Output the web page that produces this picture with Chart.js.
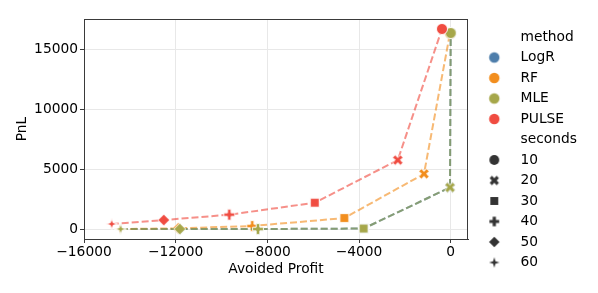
<!DOCTYPE html>
<html><head><meta charset="utf-8">
<script src="https://cdn.jsdelivr.net/npm/chart.js@4"></script>
<style>html,body{margin:0;padding:0;background:#fff}canvas{display:block}</style>
</head><body>
<canvas id="c" width="598" height="293" style="width:598px;height:293px"></canvas>
<script>
// ---- data ----
const methods = ['LogR', 'RF', 'MLE', 'PULSE'];
const seconds = [60, 50, 40, 30, 20, 10];
const logrX = [-14400, -11820, -8410, -3800, -30, 0];
const logrY = [0, 0, 0, 40, 3480, 16410];
const rfX = [-14420, -11880, -8660, -4640, -1165, -30];
const rfY = [0, 60, 250, 920, 4620, 16400];
const mleX = [-14400, -11820, -8410, -3800, -30, 0];
const mleY = [0, 0, 0, 40, 3480, 16410];
const pulseX = [-14790, -12520, -9660, -5930, -2310, -380];
const pulseY = [420, 750, 1200, 2200, 5770, 16750];
const xTicks = [-16000, -12000, -8000, -4000, 0];
const yTicks = [0, 5000, 10000, 15000];
const legendSeconds = [10, 20, 30, 40, 50, 60];
const xLabel = 'Avoided Profit';
const yLabel = 'PnL';

// ---- styles ----
const colors = {LogR: '#4e7eab', RF: '#f28e1e', MLE: '#a6a74a', PULSE: '#f04c41'};
const lineColors = {LogR: 'rgba(78,126,171,0.62)', RF: 'rgba(242,142,30,0.62)', MLE: 'rgba(130,150,80,0.7)', PULSE: 'rgba(240,76,65,0.62)'};
const shapeFor = {10: 'o', 20: 'X', 30: 's', 40: 'P', 50: 'D', 60: 'star'};
const FONT = '"DejaVu Sans", sans-serif';
const FS = 13.8;

function plusPoly(a, r, rot) {
  const pts = [[-a,-r],[a,-r],[a,-a],[r,-a],[r,a],[a,a],[a,r],[-a,r],[-a,a],[-r,a],[-r,-a],[-a,-a]];
  const c = Math.cos(rot), s = Math.sin(rot);
  return pts.map(([x,y]) => [x*c - y*s, x*s + y*c]);
}
function shapePath(ctx, shape, k) {
  ctx.beginPath();
  let poly = null;
  if (shape === 'o') { ctx.arc(0, 0, 5.5*k, 0, Math.PI*2); }
  else if (shape === 'X') { poly = plusPoly(1.8*k, 5.5*k, Math.PI/4); }
  else if (shape === 'P') { poly = plusPoly(1.8*k, 5.4*k, 0); }
  else if (shape === 's') { poly = [[-4.4*k,-4.4*k],[4.4*k,-4.4*k],[4.4*k,4.4*k],[-4.4*k,4.4*k]]; }
  else if (shape === 'D') { poly = [[0,-5.8*k],[5.8*k,0],[0,5.8*k],[-5.8*k,0]]; }
  else if (shape === 'star') {
    poly = [];
    for (let i = 0; i < 8; i++) {
      const ang = -Math.PI/2 + i*Math.PI/4;
      const rr = ((i % 2 === 0) ? 5.8 : 1.9) * k;
      poly.push([rr*Math.cos(ang), rr*Math.sin(ang)]);
    }
  }
  if (poly) { ctx.moveTo(poly[0][0], poly[0][1]); for (let i = 1; i < poly.length; i++) ctx.lineTo(poly[i][0], poly[i][1]); ctx.closePath(); }
}
function makeMarker(shape, color, k, edge) {
  const S = 18;
  const cv = document.createElement('canvas');
  cv.width = S; cv.height = S;
  const ctx = cv.getContext('2d');
  ctx.translate(S/2, S/2);
  shapePath(ctx, shape, k);
  ctx.fillStyle = color;
  ctx.fill();
  if (edge) { ctx.lineWidth = 0.9; ctx.strokeStyle = '#ffffff'; ctx.stroke(); }
  return cv;
}

const seriesX = {LogR: logrX, RF: rfX, MLE: mleX, PULSE: pulseX};
const seriesY = {LogR: logrY, RF: rfY, MLE: mleY, PULSE: pulseY};

const datasets = methods.map((m, mi) => ({
  label: m,
  data: seriesX[m].map((x, i) => ({x: x, y: seriesY[m][i]})),
  showLine: true,
  borderColor: lineColors[m],
  backgroundColor: colors[m],
  borderWidth: 2,
  borderDash: [7, 3],
  pointStyle: seconds.map(s => makeMarker(shapeFor[s], colors[m], 1, true)),
  pointRadius: 5,
  order: methods.length - mi,
  tension: 0
}));

const fmt = v => (v < 0 ? '\u2212' + Math.abs(v) : String(v));

const framePlugin = {
  id: 'frame',
  afterDatasetsDraw(chart) {
    const {ctx, chartArea: a} = chart;
    ctx.save();
    ctx.strokeStyle = '#3a3a3a';
    ctx.lineWidth = 1;
    ctx.strokeRect(Math.round(a.left) + 0.5, Math.round(a.top) + 0.5, Math.round(a.right - a.left) - 1, Math.round(a.bottom - a.top));
    ctx.restore();
  }
};

const legendPlugin = {
  id: 'customLegend',
  afterDraw(chart) {
    const ctx = chart.ctx;
    ctx.save();
    ctx.font = FS + 'px ' + FONT;
    ctx.fillStyle = '#000';
    ctx.textBaseline = 'middle';
    ctx.textAlign = 'left';
    const mx = 494.3, tx = 520.5, y0 = 37, dy = 20.5;
    let row = 0;
    ctx.fillText('method', tx, y0 + dy*row); row++;
    methods.forEach(m => {
      const y = y0 + dy*row;
      const mk = makeMarker('o', colors[m], 0.95, false);
      ctx.drawImage(mk, mx - mk.width/2, y - mk.height/2);
      ctx.fillText(m, tx, y); row++;
    });
    ctx.fillText('seconds', tx, y0 + dy*row); row++;
    legendSeconds.forEach(s => {
      const y = y0 + dy*row;
      const mk = makeMarker(shapeFor[s], '#333333', 0.9, false);
      ctx.drawImage(mk, mx - mk.width/2, y - mk.height/2);
      ctx.fillText(String(s), tx, y); row++;
    });
    ctx.restore();
  }
};

new Chart(document.getElementById('c'), {
  type: 'scatter',
  data: {datasets},
  options: {
    responsive: false,
    animation: false,
    events: [],
    layout: {padding: {top: 19, right: 130, left: 0, bottom: 0}},
    plugins: {legend: {display: false}, tooltip: {enabled: false}},
    scales: {
      x: {
        type: 'linear', min: -16000, max: 755,
        afterBuildTicks: s => { s.ticks = xTicks.map(v => ({value: v})); },
        afterFit: s => { s.height = 54; },
        ticks: {font: {family: FONT, size: FS}, color: '#000', padding: 1, maxRotation: 0, callback: v => fmt(v)},
        grid: {color: '#e8e8e8', lineWidth: 1, tickColor: '#3a3a3a', tickLength: 4, tickWidth: 1},
        border: {display: true, color: '#3a3a3a', width: 1},
        title: {display: true, text: xLabel, font: {family: FONT, size: FS}, color: '#000', padding: {top: 15, bottom: 15}}
      },
      y: {
        type: 'linear', min: -836, max: 17584,
        afterBuildTicks: s => { s.ticks = yTicks.map(v => ({value: v})); },
        afterFit: s => { s.width = 84; },
        ticks: {font: {family: FONT, size: FS}, color: '#000', padding: 2, callback: v => fmt(v)},
        grid: {color: '#e8e8e8', lineWidth: 1, tickColor: '#3a3a3a', tickLength: 4, tickWidth: 1},
        border: {display: true, color: '#3a3a3a', width: 1},
        title: {display: true, text: yLabel, font: {family: FONT, size: FS}, color: '#000', padding: {top: 14, bottom: 14}}
      }
    }
  },
  plugins: [framePlugin, legendPlugin]
});
</script>
</body></html>
